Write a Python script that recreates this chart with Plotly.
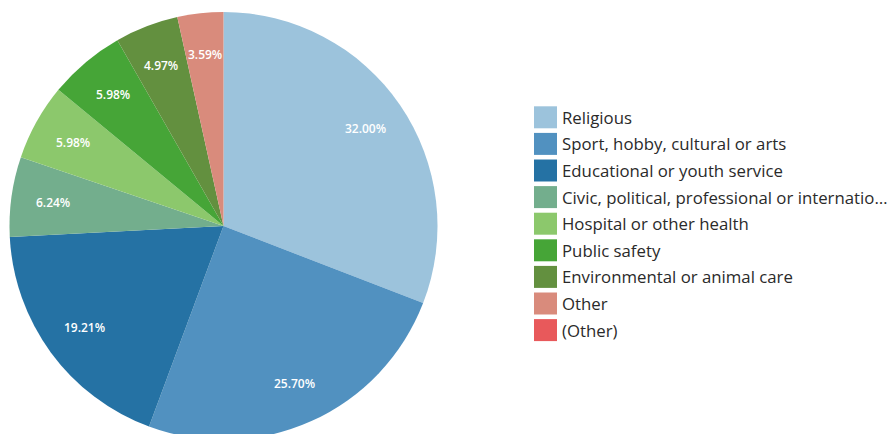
import math
import plotly.graph_objects as go

categories = [
    "Religious",
    "Sport, hobby, cultural or arts",
    "Educational or youth service",
    "Civic, political, professional or internatio…",
    "Hospital or other health",
    "Public safety",
    "Environmental or animal care",
    "Other",
    "(Other)",
]
values = [32.00, 25.70, 19.21, 6.24, 5.98, 5.98, 4.97, 3.59, 0.0]
colors = [
    "#9cc3dc", "#5191c0", "#2572a4", "#73ae8d", "#8cc86c",
    "#46a537", "#63903f", "#d98b7c", "#e8595b",
]
labels_text = [f"{v:.2f}%" if v > 0 else "" for v in values]

W, H = 893, 452
CX, CY, R = 223.5, 226.0, 214.0

fig = go.Figure()
fig.add_trace(go.Pie(
    labels=categories,
    values=values,
    text=labels_text,
    textinfo="none",
    marker=dict(colors=colors, line=dict(width=0)),
    sort=False,
    direction="clockwise",
    rotation=0,
    showlegend=False,
    hoverinfo="label+text",
    domain=dict(x=[(CX - R) / W, (CX + R) / W], y=[(CY - R) / H, (CY + R) / H]),
))

shapes = []
annotations = []

# slice labels placed on each slice's mid-angle, derived from the values
total = sum(values)
cum = 0.0
for v, t in zip(values, labels_text):
    if v > 0:
        mid = (cum + v / 2) / total * 2 * math.pi
        px = CX + 0.805 * R * math.sin(mid)
        py = CY - 0.805 * R * math.cos(mid)
        annotations.append(dict(
            x=px / W, y=1 - py / H, xref="paper", yref="paper",
            text=t, showarrow=False, xanchor="center", yanchor="middle",
            font=dict(family="Open Sans", size=12, color="white", weight=600),
        ))
    cum += v

for i, (name, col) in enumerate(zip(categories, colors)):
    cy = 117.3 + 26.6 * i
    shapes.append(dict(
        type="rect", xref="paper", yref="paper",
        x0=534 / W, x1=557 / W, y0=1 - (cy - 11) / H, y1=1 - (cy + 11) / H,
        fillcolor=col, line=dict(width=0),
    ))
    annotations.append(dict(
        x=560 / W, y=1 - cy / H, xref="paper", yref="paper",
        text=name, showarrow=False, xanchor="left", yanchor="middle",
        font=dict(family="Open Sans", size=16.8, color="#2a2a2a"),
    ))

fig.update_layout(
    width=W, height=H,
    margin=dict(l=0, r=0, t=0, b=0),
    paper_bgcolor="white",
    plot_bgcolor="white",
    shapes=shapes,
    annotations=annotations,
    font=dict(family="Open Sans"),
)

fig.write_html("out.html", post_script="document.body.style.overflow='hidden';document.body.style.margin='0';")
